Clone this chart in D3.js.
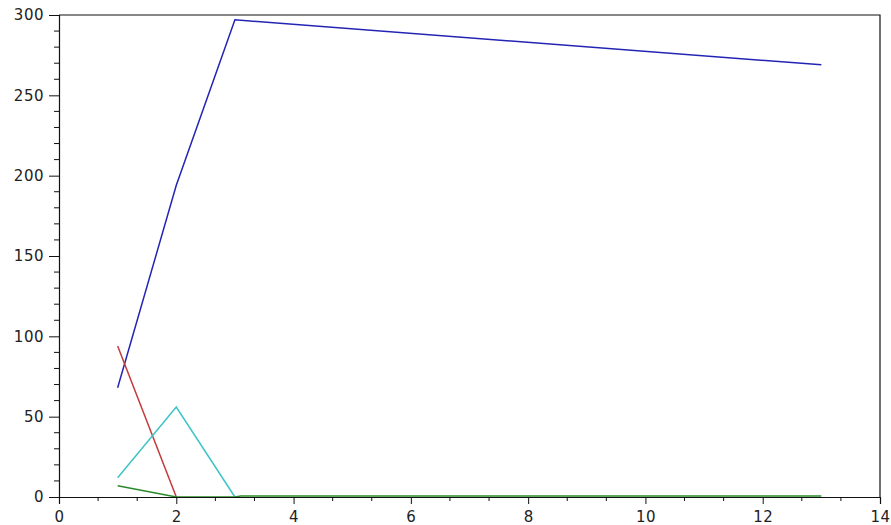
<!DOCTYPE html>
<html>
<head>
<meta charset="utf-8">
<script src="https://cdn.jsdelivr.net/npm/d3@7"></script>
<style>
  body { margin: 0; background: #fff; }
  #chart text { font-family: "DejaVu Sans", Verdana, sans-serif; font-size: 15px; fill: #222; letter-spacing: 0.5px; }
</style>
</head>
<body>
<div id="chart"></div>
<script>
    // Series
    const blueX = [1, 2, 3, 13];
    const blueY = [68, 194, 297, 269];
    const redX = [1, 2];
    const redY = [94, 0];
    const cyanX = [1, 2, 3];
    const cyanY = [12, 56, 0];
    const greenX = [1, 2, 3, 3.1, 13];
    const greenY = [7, 0, 0, 0.6, 0.6];

    const xTicks = [0, 2, 4, 6, 8, 10, 12, 14];
    const yTicks = [0, 50, 100, 150, 200, 250, 300];

    const width = 891, height = 525;
    const margin = { top: 15, right: 11, bottom: 28, left: 59 };

    const svg = d3.select("#chart").append("svg")
        .attr("width", width)
        .attr("height", height);

    const x = d3.scaleLinear().domain([0, 14]).range([margin.left, width - margin.right]);
    const y = d3.scaleLinear().domain([0, 300]).range([height - margin.bottom, margin.top]);

    const series = [
        { xs: blueX, ys: blueY, color: "#2424b4" },
        { xs: redX, ys: redY, color: "#c43a3a" },
        { xs: cyanX, ys: cyanY, color: "#3cc4c8" },
        { xs: greenX, ys: greenY, color: "#2a8a2a" }
    ];

    const line = d3.line().x(d => x(d[0])).y(d => y(d[1]));

    svg.append("g")
        .selectAll("path")
        .data(series)
        .join("path")
        .attr("fill", "none")
        .attr("stroke", d => d.color)
        .attr("stroke-width", 1.5)
        .attr("d", d => line(d.xs.map((v, i) => [v, d.ys[i]])));

    // box (top and right edges)
    svg.append("path")
        .attr("fill", "none")
        .attr("stroke", "#111")
        .attr("stroke-width", 1.2)
        .attr("d", `M${x(0)},${y(300)}H${x(14)}V${y(0)}`);

    // minor ticks: thirds on x, tens on y
    const xMinor = d3.range(0, 14, 2 / 3).filter((v, i) => i % 3 !== 0);
    const yMinor = d3.range(0, 300, 10).filter(v => v % 50 !== 0);

    const xAxis = svg.append("g")
        .attr("transform", `translate(0,${y(0)})`)
        .call(d3.axisBottom(x).tickValues(xTicks).tickSize(7).tickPadding(7).tickFormat(d3.format("d")));
    xAxis.append("g").selectAll("line")
        .data(xMinor)
        .join("line")
        .attr("x1", d => x(d)).attr("x2", d => x(d))
        .attr("y1", 0).attr("y2", 4)
        .attr("stroke", "#111");

    const yAxis = svg.append("g")
        .attr("transform", `translate(${x(0)},0)`)
        .call(d3.axisLeft(y).tickValues(yTicks).tickSize(10).tickPadding(5).tickFormat(d3.format("d")));
    yAxis.append("g").selectAll("line")
        .data(yMinor)
        .join("line")
        .attr("y1", d => y(d)).attr("y2", d => y(d))
        .attr("x1", 0).attr("x2", -5)
        .attr("stroke", "#111");

    svg.selectAll(".domain").attr("stroke", "#111").attr("stroke-width", 1.2);
    svg.selectAll(".tick line").attr("stroke", "#111");
    svg.selectAll(".tick text").attr("font-family", null).attr("font-size", null);
</script>
</body>
</html>
